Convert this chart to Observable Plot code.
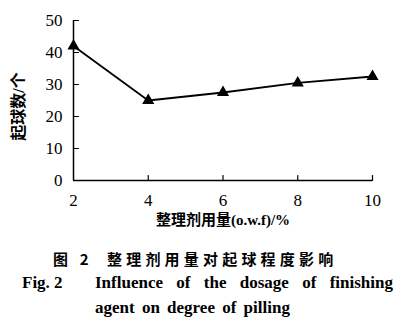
<!DOCTYPE html>
<html><head><meta charset="utf-8">
<script src="https://cdn.jsdelivr.net/npm/d3@7"></script>
<script src="https://cdn.jsdelivr.net/npm/@observablehq/plot@0.6"></script>
<style>
body{margin:0;background:#fff;}
#wrap{position:relative;width:408px;height:333px;overflow:hidden;background:#fff;}
.cap{position:absolute;white-space:nowrap;color:#000;font-weight:bold;}
.zh{font-family:"Noto Sans CJK SC",sans-serif;font-size:15px;letter-spacing:4.2px;}
.en{font-family:"Liberation Serif",serif;font-size:17px;}
</style></head>
<body><div id="wrap"></div>
<script>
const dosage = [2, 4, 6, 8, 10];
const pillCount = [42, 25, 27.5, 30.5, 32.5];
const yTicks = [0, 10, 20, 30, 40, 50];
const xTicks = [2, 4, 6, 8, 10];
const xLabel = "整理剂用量(o.w.f)/%";
const yLabel = "起球数/个";
const captionZh = ["图 2", "整理剂用量对起球程度影响"];
const captionEn = ["Fig. 2", "Influence of the dosage of finishing", "agent on degree of pilling"];

const data = dosage.map((d, i) => ({x: d, y: pillCount[i]}));

const tickShape = {draw(context, l) { context.moveTo(0, 0); context.lineTo(0, -l); }};

const chart = Plot.plot({
  width: 408, height: 230,
  marginLeft: 73, marginRight: 36, marginTop: 20, marginBottom: 50,
  style: {fontFamily: "'Liberation Serif','Noto Sans CJK SC',serif", fontWeight: "normal", fontSize: "17px", color: "#000", background: "#fff"},
  x: {domain: [2, 10]},
  y: {domain: [0, 50]},
  marks: [
    Plot.axisY({ticks: yTicks, tickSize: 0, tickPadding: 11, label: null}),
    Plot.axisX({ticks: xTicks, tickSize: 0, tickPadding: 13, label: null}),
    Plot.text([xLabel], {frameAnchor: "bottom", textAnchor: "middle", lineAnchor: "middle", dy: 40, fontSize: 15, fontWeight: "bold", fill: "#000"}),
    Plot.text([yLabel], {frameAnchor: "left", textAnchor: "middle", lineAnchor: "middle", rotate: -90, dx: -55, dy: 6, fontSize: 16, fontWeight: "bold", fill: "#000"}),
    Plot.vector(yTicks, {x: 2, y: d => d, rotate: 90, length: 5, anchor: "start", shape: tickShape, stroke: "#000", strokeWidth: 1.2}),
    Plot.vector(xTicks.slice(1), {x: d => d, y: 0, rotate: 0, length: 5, anchor: "start", shape: tickShape, stroke: "#000", strokeWidth: 1.2}),
    Plot.ruleX([2], {stroke: "#000", strokeWidth: 1.5}),
    Plot.ruleY([0], {stroke: "#000", strokeWidth: 1.5}),
    Plot.line(data, {x: "x", y: "y", stroke: "#000", strokeWidth: 1.8}),
    Plot.dot(data, {x: "x", y: "y", symbol: "triangle", fill: "#000", r: 4.5})
  ]
});
const wrap = document.getElementById("wrap");
wrap.appendChild(chart);

function cap(text, cls, left, top, extra) {
  const d = document.createElement("div");
  d.className = "cap " + cls;
  d.textContent = text;
  d.style.left = left + "px";
  d.style.top = top + "px";
  if (extra) Object.assign(d.style, extra);
  wrap.appendChild(d);
  return d;
}
cap(captionZh[0], "zh", 53, 248);
cap(captionZh[1], "zh", 107, 248);
cap(captionEn[0], "en", 22, 273);
cap(captionEn[1], "en", 95, 273, {width: "298px", textAlign: "justify", textAlignLast: "justify"});
cap(captionEn[2], "en", 95, 298, {wordSpacing: "3px"});
</script>
</body></html>
